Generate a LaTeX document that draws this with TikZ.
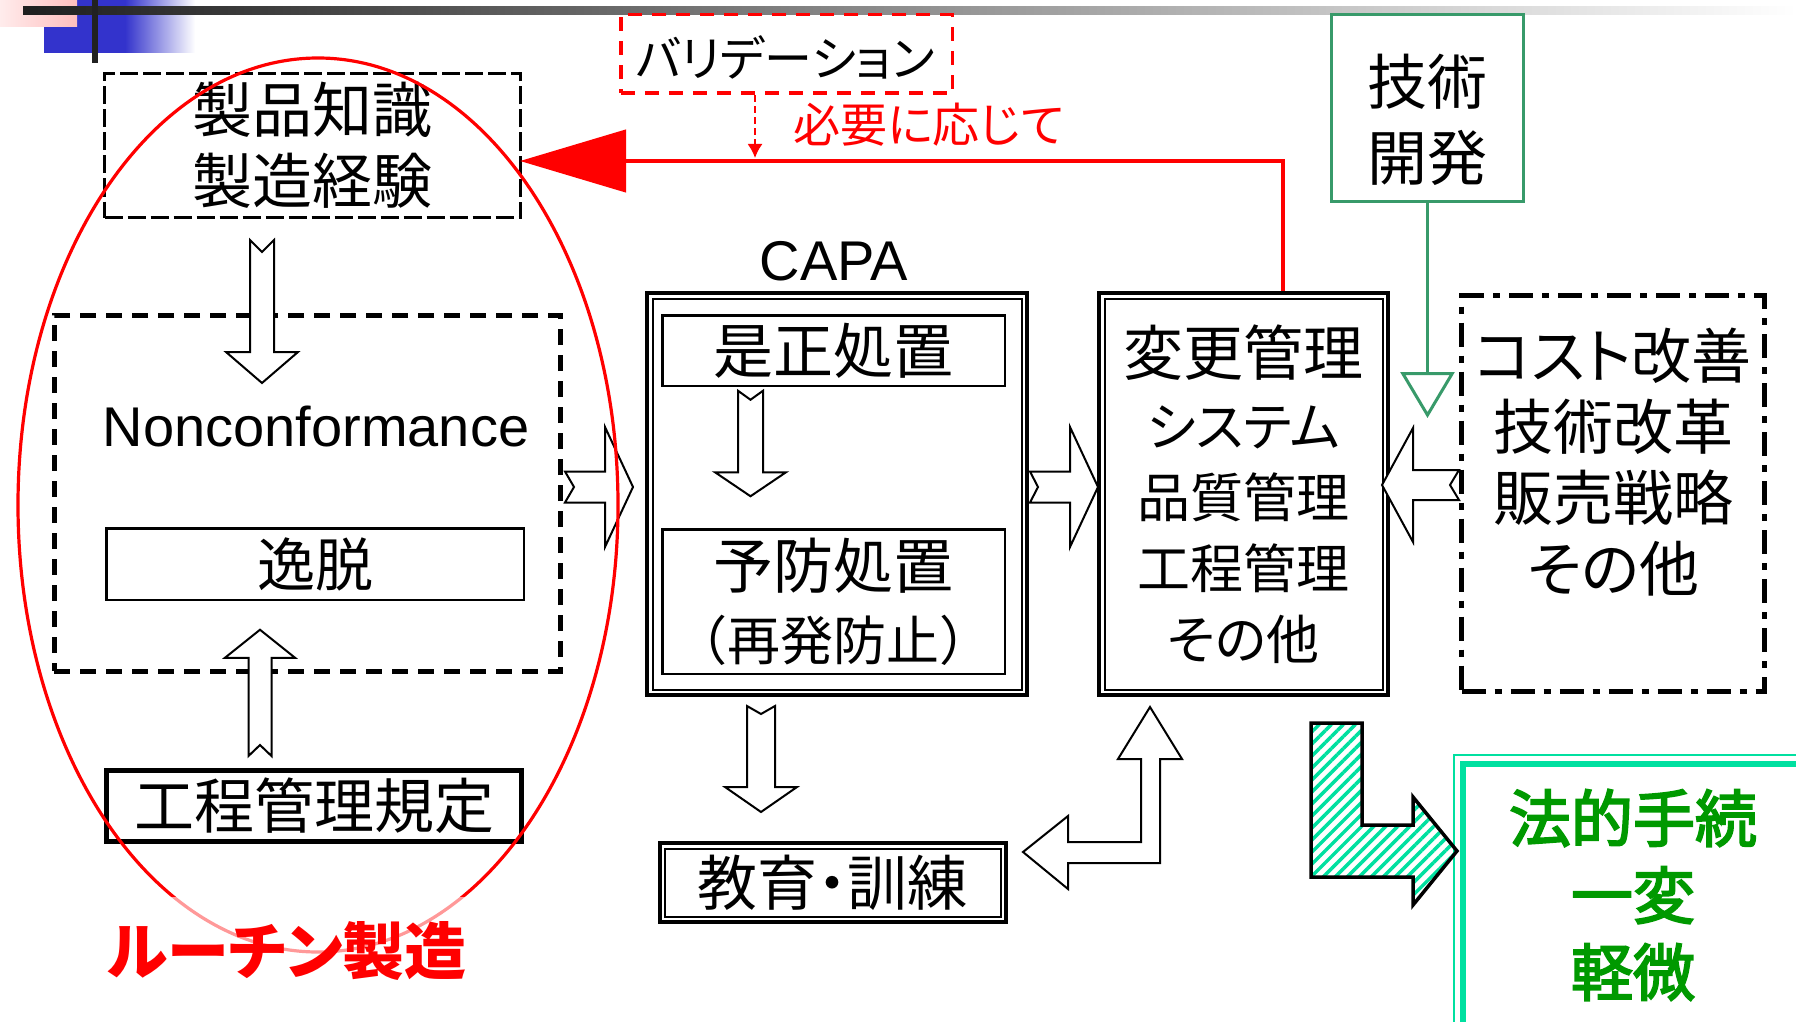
\documentclass[tikz,border=0pt]{standalone}
\usepackage{fontspec}
\setmainfont{Noto Sans CJK JP}[RawFeature=+palt]
\newfontfamily\cjkfw{Noto Sans CJK JP}
\newfontfamily\cjkfb{Noto Sans CJK JP}[RawFeature=+palt,FakeBold=3]
\newfontfamily\latf{Liberation Sans}
\usetikzlibrary{calc,arrows.meta,patterns.meta}
\definecolor{rred}{RGB}{255,0,0}
\definecolor{tealc}{RGB}{0,224,160}
\definecolor{gtxt}{RGB}{0,153,0}
\definecolor{gline}{RGB}{56,154,106}
\definecolor{bluec}{RGB}{51,51,204}
\definecolor{pinkl}{RGB}{255,236,236}
\definecolor{pinkr}{RGB}{255,190,190}
\newdimen\BAx \newdimen\BAy \newdimen\BBx \newdimen\BBy
% block arrow: from, to, shaft half width, head half width, head length, tail notch
\newcommand\blockarrow[6]{%
  \pgfextractx{\BAx}{\pgfpointanchor{#1}{center}}%
  \pgfextracty{\BAy}{\pgfpointanchor{#1}{center}}%
  \pgfextractx{\BBx}{\pgfpointanchor{#2}{center}}%
  \pgfextracty{\BBy}{\pgfpointanchor{#2}{center}}%
  \pgfmathsetmacro\BArAng{atan2(\BBy-\BAy,\BBx-\BAx)}%
  \pgfmathsetmacro\BArLen{veclen(\BBx-\BAx,\BBy-\BAy)}%
  \begin{scope}[shift={(\BAx,\BAy)},rotate=\BArAng]
    \draw[blk] (0pt,#3pt) -- (\BArLen pt-#5pt,#3pt) -- (\BArLen pt-#5pt,#4pt)
      -- (\BArLen pt,0pt) -- (\BArLen pt-#5pt,-#4pt) -- (\BArLen pt-#5pt,-#3pt)
      -- (0pt,-#3pt) -- (#6pt,0pt) -- cycle;
  \end{scope}}
\begin{document}
\begin{tikzpicture}[x=1pt,y=-1pt,
  every node/.style={inner sep=0pt,outer sep=0pt},
  blk/.style={draw=black,fill=white,line width=2pt,line join=miter},
  fA/.style={font=\fontsize{60pt}{71pt}\selectfont},
  fB/.style={font=\fontsize{53pt}{71pt}\selectfont}]
\useasboundingbox (0,0) rectangle (1796,1022);
\clip (0,0) rectangle (1796,1022);
\fill[white] (0,0) rectangle (1796,1022);
% decoration
\fill[bluec] (44,0) rectangle (126,53);
\shade[left color=bluec,right color=white] (125,0) rectangle (195,53);
\shade[left color=pinkl,right color=pinkr] (0,0) rectangle (77,27);
\shade[left color=black!88,right color=white] (23,7) rectangle (1796,15);
\fill[black!87] (92,0) rectangle (98,63);

% left column
\node[draw,line width=3.5pt,dash pattern=on 18pt off 5pt,minimum width=416pt,minimum height=144pt,fA,align=center] (kn) at (312.5,145.5) {製品知識\\製造経験};
\node[draw,line width=5pt,dash pattern=on 16pt off 10pt,minimum width=506pt,minimum height=356pt] (nc) at (307,493) {};
\node[font={\latf\fontsize{56pt}{60pt}\selectfont}] (nct) at (316,427) {Nonconformance};
\node[draw,line width=2.5pt,minimum width=417.5pt,minimum height=71.5pt,font=\fontsize{58pt}{60pt}\selectfont] (dev) at (315,564) {逸脱};
\node[draw,line width=5pt,minimum width=415pt,minimum height=71pt,fA] (kk) at (314,806) {工程管理規定};

\coordinate (a1s) at ($(kn.south)+(-50.5,22.5)$);
\coordinate (a1e) at ($(nc.north)+(-45,68)$);
\blockarrow{a1s}{a1e}{12}{36}{31}{12}
\coordinate (a2s) at ($(kk.north)+(-54,-14.5)$);
\coordinate (a2e) at ($(dev.south)+(-55,30)$);
\blockarrow{a2s}{a2e}{11.5}{35}{28}{11}

% CAPA
\node[font={\latf\fontsize{56pt}{60pt}\selectfont}] (capal) at (834,261) {CAPA};
\node[draw,line width=4pt,minimum width=380pt,minimum height=402pt] (capa) at (837,494) {};
\draw[line width=2pt] ($(capa.north west)+(5.5,5.5)$) rectangle ($(capa.south east)+(-5.5,-5.5)$);
\node[draw,line width=2.5pt,minimum width=342.5pt,minimum height=70.5pt,fA] (cor) at (833.5,350.5) {是正処置};
\node[draw,line width=2.5pt,minimum width=342.5pt,minimum height=144.5pt,align=center,font=\fontsize{60pt}{72pt}\selectfont] (pre) at (833.5,601.5) {予防処置\\{\cjkfw\fontsize{53pt}{72pt}\selectfont （再発防止）}};
\coordinate (ci1) at ($(cor.south)+(-83,5)$);
\coordinate (ci2) at ($(pre.north)+(-83,-33)$);
\blockarrow{ci1}{ci2}{12.5}{35.5}{24}{9}

\coordinate (a3s) at ($(nc.east)+(5,-6)$);
\coordinate (a3e) at ($(capa.west)+(-14,-7)$);
\blockarrow{a3s}{a3e}{15.5}{60}{28}{9}

% change control
\node[draw,line width=4pt,minimum width=289pt,minimum height=402pt,align=center,fB] (cm) at (1243.5,494) {{\fontsize{60pt}{71pt}\selectfont 変更管理}\\システム\\品質管理\\工程管理\\その他};
\draw[line width=2pt] ($(cm.north west)+(5.5,5.5)$) rectangle ($(cm.south east)+(-5.5,-5.5)$);
\coordinate (a4s) at ($(capa.east)+(3,-7)$);
\coordinate (a4e) at ($(cm.west)+(-1,-7)$);
\blockarrow{a4s}{a4e}{15.5}{60}{28}{8}

% cost box
\node[draw,line width=5pt,dash pattern=on 24pt off 9pt on 7pt off 9pt,minimum width=303pt,minimum height=396pt] (cost) at (1613,493.5) {};
\node[fA,align=center] (costt) at (1613,462) {コスト改善\\技術改革\\販売戦略\\その他};
\coordinate (a5s) at ($(cost.west)+(-2.5,-8.5)$);
\coordinate (a5e) at ($(cm.east)+(-6,-9)$);
\blockarrow{a5s}{a5e}{15}{57}{31}{9}

% tech development
\node[draw=gline,line width=3pt,minimum width=192pt,minimum height=187pt] (tech) at (1427.5,108) {};
\node[font=\fontsize{60pt}{76pt}\selectfont,align=center] (techt) at (1427,120) {技術\\開発};
\coordinate (gtip) at ($(tech.south)+(0,216.5)$);
\draw[gline,line width=3pt,-{Triangle[open,length=46pt,width=54pt,fill=white]}] (tech.south) -- (gtip);

% education
\node[draw,line width=4pt,minimum width=346.5pt,minimum height=79pt,font=\fontsize{60pt}{62pt}\selectfont] (edu) at (832.75,882.5) {教育・訓練};
\draw[line width=2pt] ($(edu.north west)+(5.5,5.5)$) rectangle ($(edu.south east)+(-5.5,-5.5)$);
\coordinate (a6s) at ($(capa.south)+(-76,11)$);
\coordinate (a6e) at ($(edu.north)+(-71.75,-31)$);
\blockarrow{a6s}{a6e}{14}{36}{25}{8}

% bent double arrow
\coordinate (bu) at ($(cm.south)+(-93.5,12)$);
\coordinate (bl) at ($(edu.east)+(17,-30.5)$);
\draw[blk] (bu) -- ++(32,52) -- ++(-22,0) -- ++(0,104) -- ++(-92,0) -- ++(0,26)
  -- (bl) -- ++(45,-36) -- ++(0,26) -- ++(73,0) -- ++(0,-83) -- ++(-23,0) -- cycle;

% legal box
\node[draw=tealc,line width=2pt,minimum width=376pt,minimum height=295pt] (lg) at (1642,902.5) {};
\draw[tealc,line width=6pt] ($(lg.north west)+(8.5,8.5)$) rectangle ($(lg.south east)+(-8.5,-8.5)$);
\node[text=gtxt,font=\cjkfb\fontsize{62pt}{77pt}\selectfont,align=center] (lgt) at (1633,895) {法的手続\\一変\\軽微};
\coordinate (lt) at ($(lg.west)+(3,-51.5)$);
\draw[line width=3.5pt,line join=miter,pattern={Lines[angle=45,distance=8.5pt,line width=3.5pt]},pattern color=tealc]
  (lt) -- ++(-44,54) -- ++(0,-28) -- ++(-102,0) -- ++(0,-154) -- ++(51,0) -- ++(0,102) -- ++(51,0) -- ++(0,-28) -- cycle;

% validation and red feedback
\node[draw=rred,line width=3.5pt,dash pattern=on 14pt off 10pt,minimum width=331.5pt,minimum height=78.5pt] (val) at (786.5,54) {};
\node[font=\fontsize{48pt}{50pt}\selectfont] (valt) at (785,57) {バリデーション};
\node[text=rred,font=\fontsize{47pt}{50pt}\selectfont] (need) at (929,125) {必要に応じて};
\coordinate (rs) at ($(cm.north)+(39.5,-2)$);
\coordinate (rt) at ($(kn.east)+(-0.5,15.5)$);
\draw[rred,line width=4.5pt,-{Triangle[length=106pt,width=62pt]}] (rs) |- (rt);
\coordinate (vs) at ($(val.south)+(-31.5,2)$);
\coordinate (ve) at ($(vs |- rt)+(0,-3)$);
\draw[rred,line width=1.8pt,dash pattern=on 7pt off 4pt,-{Latex[length=14pt,width=15pt]}] (vs) -- (ve);

% routine manufacturing ellipse
\draw[rred,line width=3.2pt] (318,505) ellipse [x radius=300pt,y radius=447pt];
\node[text=rred,font=\bfseries\fontsize{62pt}{62pt}\selectfont,fill=white,fill opacity=0.6,text opacity=1,minimum height=108pt] (routine) at (287,951) {ルーチン製造};
\end{tikzpicture}
\end{document}
